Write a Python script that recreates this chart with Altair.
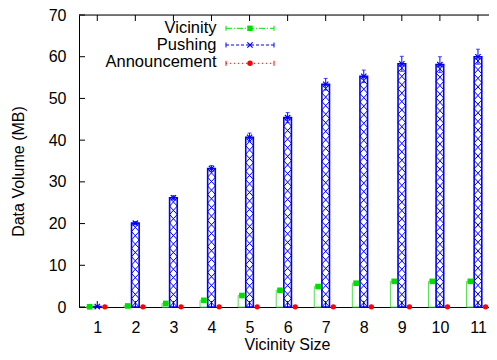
import altair as alt
import pandas as pd
import numpy as np

# ---- data ----
categories = [1, 2, 3, 4, 5, 6, 7, 8, 9, 10, 11]
vicinity = [0.05, 0.25, 0.85, 1.6, 2.75, 4.0, 4.9, 5.7, 6.15, 6.15, 6.15]
vicinity_err = [0.02, 0.05, 0.1, 0.1, 0.15, 0.15, 0.2, 0.2, 0.2, 0.2, 0.2]
pushing = [0.1, 20.1, 26.2, 33.2, 40.7, 45.4, 53.4, 55.3, 58.3, 58.1, 60.0]
pushing_err = [0.05, 0.4, 0.5, 0.7, 1.0, 1.2, 1.4, 1.5, 1.8, 1.9, 1.8]
announcement = [0.03, 0.03, 0.03, 0.03, 0.03, 0.03, 0.03, 0.03, 0.03, 0.03, 0.03]
y_ticks = [0, 10, 20, 30, 40, 50, 60, 70]
series = ["Vicinity", "Pushing", "Announcement"]

GREEN = "#00e000"
GREEN_BAR = "#55e055"
BLUE = "#0000ff"
RED = "#ff0000"
FONT = "Liberation Sans"
FS = 16
LFS = 16.5

W, H = 410, 292
XR = 418  # full (partly clipped) x range in px

df = pd.DataFrame({
    "cat": categories,
    "vic": vicinity, "vic_err": vicinity_err,
    "push": pushing, "push_err": pushing_err,
    "ann": announcement,
})

xscale = alt.Scale(domain=[0.52, 11.5], range=[0, XR], nice=False, zero=False)
yscale = alt.Scale(domain=[0, 70], nice=False, zero=True)
xaxis = alt.Axis(values=categories, title="Vicinity Size", grid=False, ticks=False,
                 labelPadding=12, domainColor="black", domainWidth=1,
                 labelFont=FONT, labelFontSize=FS, titleFont=FONT, titleFontSize=FS,
                 titleFontWeight="normal", titleY=42, titleX=208, titleBaseline="alphabetic",
                 labelColor="black", titleColor="black", labelAngle=0)
yaxis = alt.Axis(values=y_ticks, title="Data Volume (MB)", grid=False, ticks=False,
                 labelPadding=13, domainColor="black", domainWidth=1,
                 labelFont=FONT, labelFontSize=FS, titleFont=FONT, titleFontSize=FS,
                 titleFontWeight="normal", titleX=-61, titleY=156, titleBaseline="middle",
                 labelColor="black", titleColor="black")


def X(f):
    return alt.X(f, type="quantitative", scale=xscale, axis=xaxis)


def Y(f):
    return alt.Y(f, type="quantitative", scale=yscale, axis=yaxis)


base = alt.Chart(df).transform_calculate(
    gx="datum.cat - 0.2", gl="datum.cat - 0.3", gr="datum.cat - 0.1",
    bx="datum.cat", bl="datum.cat - 0.1", br="datum.cat + 0.1",
    rx="datum.cat + 0.2",
    vlo="datum.vic - datum.vic_err", vhi="datum.vic + datum.vic_err",
    plo="datum.push - datum.push_err", phi="datum.push + datum.push_err",
)

green_bar = base.mark_rect(fill="white", fillOpacity=0, stroke=GREEN_BAR, strokeWidth=1).encode(
    x=X("gl"), x2="gr", y=Y("vic"), y2=alt.datum(0))

# cross hatch for the Pushing bars (X symbols stacked inside each bar)
px_per_unit = H / 70.0
hx, hy = [], []
for c, v in zip(categories, pushing):
    n = int(round(v * px_per_unit / 8.5))
    if n <= 0:
        continue
    step = v / n
    for k in range(n):
        hx.append(c)
        hy.append((k + 0.5) * step)
hatch_df = pd.DataFrame({"cat": hx, "hy": hy})
hatch = alt.Chart(hatch_df).mark_point(
    shape="M-1,-1.1L1,1.1M-1,1.1L1,-1.1", size=60, filled=False,
    stroke=BLUE, strokeWidth=1, opacity=1).encode(x=X("cat"), y=Y("hy"))

blue_bar = base.mark_rect(fill="white", fillOpacity=0, stroke=BLUE, strokeWidth=1.6).encode(
    x=X("bl"), x2="br", y=Y("push"), y2=alt.datum(0))

blue_err = base.mark_rule(color=BLUE, strokeWidth=1).encode(x=X("bx"), y=Y("plo"), y2="phi")
blue_cap_hi = base.mark_tick(orient="horizontal", color=BLUE, size=4, thickness=1).encode(x=X("bx"), y=Y("phi"))
blue_cap_lo = base.mark_tick(orient="horizontal", color=BLUE, size=4, thickness=1).encode(x=X("bx"), y=Y("plo"))
green_err = base.mark_rule(color=GREEN, strokeWidth=1).encode(x=X("gx"), y=Y("vlo"), y2="vhi")

green_pt = base.mark_point(shape="square", filled=True, size=32, color=GREEN, opacity=1).encode(
    x=X("gx"), y=Y("vic"))
blue_pt = base.mark_point(shape="M-1,-1L1,1M-1,1L1,-1", filled=False, size=28, stroke=BLUE,
                          strokeWidth=1.2, opacity=1).encode(x=X("bx"), y=Y("push"))
red_pt = base.mark_point(shape="circle", filled=True, size=28, color=RED, opacity=1).encode(
    x=X("rx"), y=Y("ann"))

# frame pieces and inward ticks
one = pd.DataFrame({"a": [0]})
top_border = alt.Chart(one).mark_rule(color="black", strokeWidth=1).encode(
    x=alt.value(0), x2=alt.value(XR), y=alt.value(0))
yt = pd.DataFrame({"t": y_ticks})
ytick_l = alt.Chart(yt).mark_rule(color="black").encode(x=alt.value(0), x2=alt.value(6), y=Y("t"))
xt = pd.DataFrame({"c": categories})
xtick_b = alt.Chart(xt).mark_rule(color="black").encode(x=X("c"), y=alt.value(H), y2=alt.value(H - 6))
xtick_t = alt.Chart(xt).mark_rule(color="black").encode(x=X("c"), y=alt.value(0), y2=alt.value(6))

# legend (drawn inside the plot, top-left)
legend_layers = []
leg_rows = [
    ("Vicinity", GREEN, [6, 2, 1, 2], "square", True, 18.0, 13.3),
    ("Pushing", BLUE, [3, 2], "M-1,-1L1,1M-1,1L1,-1", False, 35.1, 30.0),
    ("Announcement", RED, [1, 3], "circle", True, 52.3, 48.3),
]
for name, col, dash, shp, filled, ty, ly in leg_rows:
    legend_layers.append(alt.Chart(one).mark_text(
        text=name, align="right", baseline="alphabetic", font=FONT, fontSize=LFS, color="black"
    ).encode(x=alt.value(137.5), y=alt.value(ty)))
    legend_layers.append(alt.Chart(one).mark_rule(color=col, strokeWidth=1, strokeDash=dash).encode(
        x=alt.value(147), x2=alt.value(195), y=alt.value(ly)))
    for ex in (147, 195):
        legend_layers.append(alt.Chart(one).mark_rule(color=col, strokeWidth=1).encode(
            x=alt.value(ex), y=alt.value(ly - 2.5), y2=alt.value(ly + 2.5)))
    if filled:
        legend_layers.append(alt.Chart(one).mark_point(shape=shp, filled=True, size=30, color=col, opacity=1).encode(
            x=alt.value(171), y=alt.value(ly)))
    else:
        legend_layers.append(alt.Chart(one).mark_point(shape=shp, filled=False, size=28, stroke=col,
                                                       strokeWidth=1.2, opacity=1).encode(
            x=alt.value(171), y=alt.value(ly)))

chart = alt.layer(
    green_bar, hatch, blue_bar, green_err, blue_err, blue_cap_hi, blue_cap_lo,
    green_pt, blue_pt, red_pt,
    top_border, ytick_l, xtick_b, xtick_t,
    *legend_layers,
).properties(
    width=W, height=H,
    autosize=alt.AutoSizeParams(type="none"),
    padding={"left": 71, "top": 7, "right": 0, "bottom": 45},
).configure_view(stroke=None).configure(background="white")

chart.save("out.html", embed_options={"renderer": "svg", "actions": False})
